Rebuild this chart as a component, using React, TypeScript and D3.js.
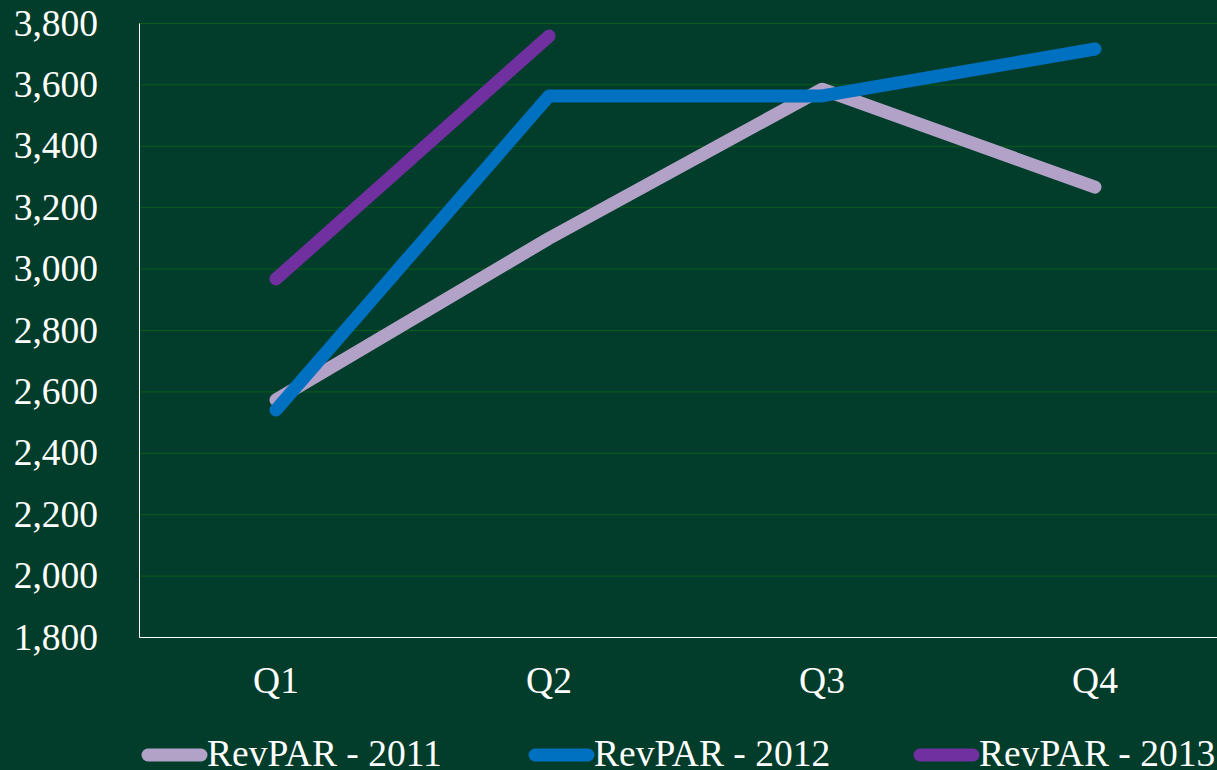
import { useEffect, useRef } from 'react';
import * as d3 from "d3";

const quarters = ["Q1", "Q2", "Q3", "Q4"];
const revpar2011 = [2574, 3100, 3586, 3267];
const revpar2012 = [2541, 3564, 3564, 3717];
const revpar2013 = [2968, 3759];
const seriesNames = ["RevPAR - 2011", "RevPAR - 2012", "RevPAR - 2013"];
const seriesColors = ["#b3a2c7", "#0070c0", "#7030a0"];
const yTicks = [1800, 2000, 2200, 2400, 2600, 2800, 3000, 3200, 3400, 3600, 3800];

export default function App() {
  const ref = useRef<SVGSVGElement>(null);

  useEffect(() => {
    if (!ref.current) return;
    const svg = d3.select(ref.current);
    svg.selectAll("*").remove();

    const width = 1217;
    const height = 770;
    const marginLeft = 139.5;
    const marginTop = 23.5;
    const plotBottom = 637.5;
    const band = 273;
    const font = "'Liberation Serif', 'Times New Roman', serif";
    const fontSize = 37.5;

    svg.append("rect").attr("width", width).attr("height", height).attr("fill", "#023c2a");

    const x = d3.scaleBand()
      .domain(quarters)
      .range([marginLeft, marginLeft + band * quarters.length]);
    const y = d3.scaleLinear().domain([1800, 3800]).range([plotBottom, marginTop]);

    // gridlines
    svg.append("g")
      .selectAll("line")
      .data(yTicks.slice(1))
      .join("line")
      .attr("x1", marginLeft)
      .attr("x2", width)
      .attr("y1", d => y(d))
      .attr("y2", d => y(d))
      .attr("stroke", "#0a5e1c")
      .attr("stroke-width", 1);

    // axis lines
    svg.append("line")
      .attr("x1", marginLeft).attr("x2", marginLeft)
      .attr("y1", marginTop).attr("y2", plotBottom)
      .attr("stroke", "#ffffff").attr("stroke-width", 1);
    svg.append("line")
      .attr("x1", marginLeft).attr("x2", width)
      .attr("y1", plotBottom).attr("y2", plotBottom)
      .attr("stroke", "#ffffff").attr("stroke-width", 1);

    // y tick labels
    svg.append("g")
      .selectAll("text")
      .data(yTicks)
      .join("text")
      .attr("x", 98)
      .attr("y", d => y(d) + 12)
      .attr("text-anchor", "end")
      .attr("fill", "#ffffff")
      .attr("font-family", font)
      .attr("font-size", fontSize)
      .text(d => d3.format(",")(d));

    // x labels
    svg.append("g")
      .selectAll("text")
      .data(quarters)
      .join("text")
      .attr("x", d => (x(d) || 0) + x.bandwidth() / 2)
      .attr("y", 693)
      .attr("text-anchor", "middle")
      .attr("fill", "#ffffff")
      .attr("font-family", font)
      .attr("font-size", fontSize)
      .text(d => d);

    const line = d3.line<number>()
      .x((_, i) => (x(quarters[i]) || 0) + x.bandwidth() / 2)
      .y(d => y(d));

    [revpar2011, revpar2012, revpar2013].forEach((vals, i) => {
      svg.append("path")
        .attr("d", line(vals) || "")
        .attr("fill", "none")
        .attr("stroke", seriesColors[i])
        .attr("stroke-width", 13)
        .attr("stroke-linecap", "round")
        .attr("stroke-linejoin", "round");
    });

    // legend
    const legendX = [148, 535, 920];
    const legend = svg.append("g")
      .selectAll("g")
      .data(seriesNames)
      .join("g")
      .attr("transform", (_, i) => `translate(${legendX[i]},755)`);
    legend.append("line")
      .attr("x1", 0).attr("x2", 53)
      .attr("y1", 0).attr("y2", 0)
      .attr("stroke", (_, i) => seriesColors[i])
      .attr("stroke-width", 13)
      .attr("stroke-linecap", "round");
    legend.append("text")
      .attr("x", 59)
      .attr("y", 11)
      .attr("fill", "#ffffff")
      .attr("font-family", font)
      .attr("font-size", fontSize)
      .text(d => d);
  }, []);

  return (
    <svg
      ref={ref}
      width={1217}
      height={770}
      style={{ position: "absolute", left: 0, top: 0, display: "block" }}
    />
  );
}
